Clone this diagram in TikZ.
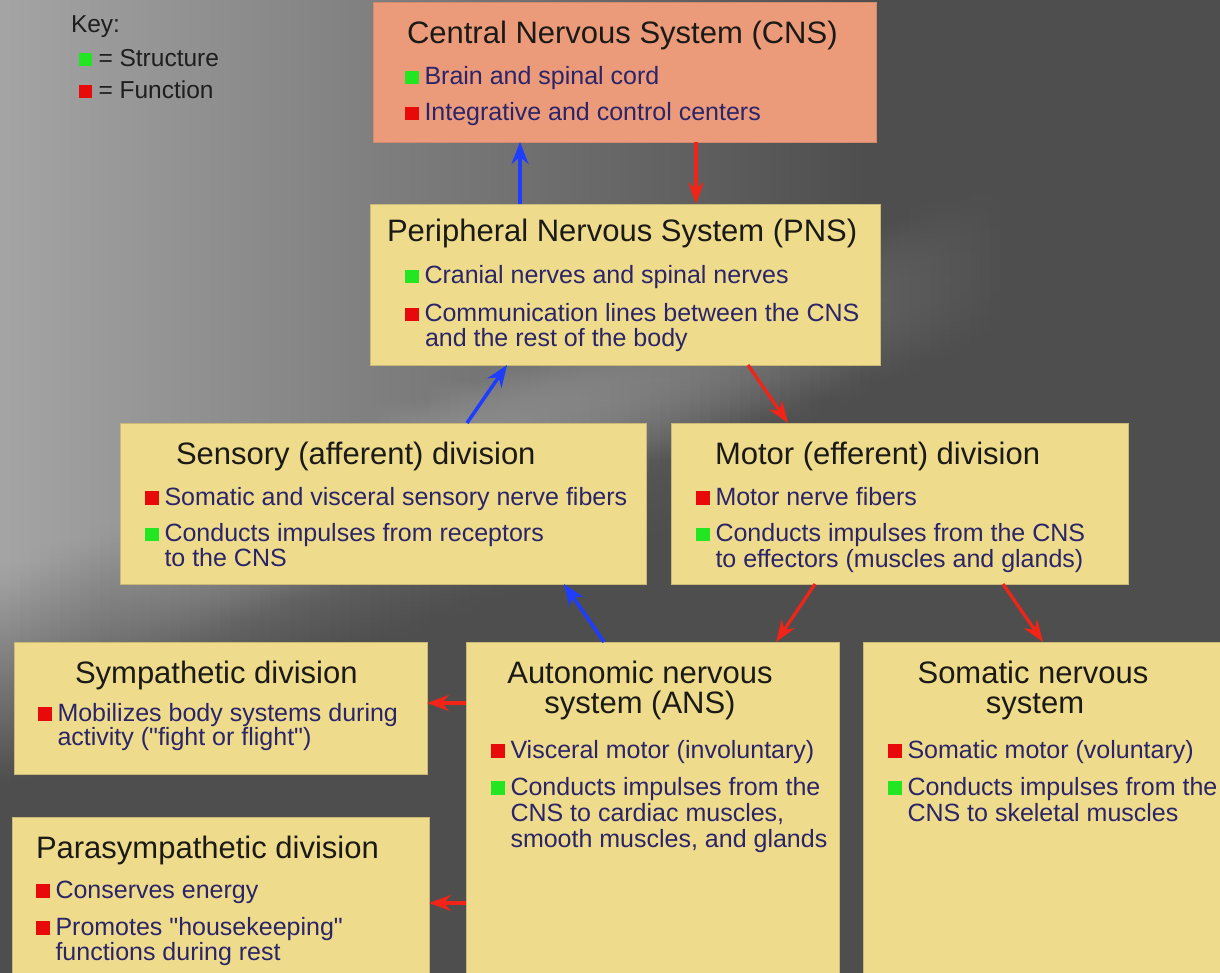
\documentclass[tikz,border=0pt]{standalone}
\usepackage{fontspec}
\setmainfont{Liberation Sans}[Ligatures=TeXOff]
\usetikzlibrary{arrows.meta}
\definecolor{cnsfill}{HTML}{EB9A7A}
\definecolor{boxfill}{HTML}{EEDC8C}
\definecolor{boxline}{HTML}{C9B979}
\definecolor{titlecol}{HTML}{1C1A16}
\definecolor{bulcol}{HTML}{2B2468}
\definecolor{sqgreen}{HTML}{22E622}
\definecolor{sqred}{HTML}{E80A0A}
\definecolor{arrblue}{HTML}{1F3DFF}
\definecolor{arrred}{HTML}{F22418}
\definecolor{keytext}{HTML}{1E1E1E}
\newcommand{\gsq}{{\color{sqgreen}\rule[0.5pt]{13.5pt}{13.5pt}}\hspace{6pt}}
\newcommand{\rsq}{{\color{sqred}\rule[0.5pt]{13.5pt}{13.5pt}}\hspace{6pt}}
\newcommand{\keysq}[1]{{\color{#1}\rule[0.5pt]{13pt}{13pt}}\hspace{6.5pt}}
\tikzset{
  box/.style={rectangle, draw=boxline, line width=0.8pt, fill=boxfill, inner sep=0pt, outer sep=0pt},
  cnsbox/.style={box, fill=cnsfill, draw=cnsfill!90!black},
  ttl/.style={anchor=base west, inner sep=0pt, outer sep=0pt, font=\fontsize{31}{33}\selectfont, text=titlecol},
  ttlc/.style={ttl, anchor=base},
  bul/.style={anchor=base west, inner sep=0pt, outer sep=0pt, font=\fontsize{25}{27}\selectfont, text=bulcol},
  keyt/.style={anchor=base west, inner sep=0pt, outer sep=0pt, font=\fontsize{24.5}{26}\selectfont, text=keytext},
  barrow/.style={draw=arrblue, line width=3.5pt, -{Stealth[length=22pt, width=17pt]}},
  rarrow/.style={draw=arrred, line width=3.2pt, -{Stealth[length=22pt, width=16pt]}}
}
\begin{document}
\begin{tikzpicture}[x=1pt, y=-1pt]
\useasboundingbox (0,0) rectangle (1220,973);
% background: one vertical shading per 10pt column
\foreach \i in {0,...,121}{
  \pgfmathsetmacro{\cx}{\i*10+5}
  \pgfmathsetmacro{\ax}{0.34*max(0,1-\cx/870)}
  \pgfmathsetmacro{\bx}{0.13*max(0,1-((\cx-560)/450)*((\cx-560)/450))}
  \gdef\bgstops{}
  \gdef\bgsep{}
  \foreach \p in {0,20,...,980}{
    \pgfmathsetmacro{\bgd}{0.353*\cx+0.936*(980-\p)-594}
    \pgfmathsetmacro{\bgv}{100*(0.305+\ax*min(1,max(0,0.5-(\bgd-40)/200))+\bx*max(0,1-(\bgd/70)*(\bgd/70)))}
    \xdef\bgstops{\bgstops\bgsep color(\p pt)=(white!\bgv!black)}
    \gdef\bgsep{; }
  }
  \edef\bgdo{\noexpand\pgfdeclareverticalshading{bgcol\i}{10.6pt}{\bgstops}}
  \bgdo
  \pgftext[left,top,at={\pgfpointxy{\i*10}{0}}]{\pgfuseshading{bgcol\i}}
}
% key
\node[keyt] (key) at (71,33) {Key:};
\node[keyt] (keys) at (79,67) {\keysq{sqgreen}= Structure};
\node[keyt] (keyf) at (79,99) {\keysq{sqred}= Function};
% boxes
\node[cnsbox, minimum width=503pt, minimum height=140pt] (cns) at (625,72) {};
\node[box, minimum width=510pt, minimum height=161pt] (pns) at (625,284.5) {};
\node[box, minimum width=526pt, minimum height=161pt] (sens) at (383,503.5) {};
\node[box, minimum width=457pt, minimum height=161pt] (motor) at (899.5,503.5) {};
\node[box, minimum width=413pt, minimum height=132pt] (symp) at (220.5,708) {};
\node[box, minimum width=417pt, minimum height=163pt] (para) at (220.5,898.5) {};
\node[box, minimum width=373pt, minimum height=338pt] (ans) at (652.5,811) {};
\node[box, minimum width=362pt, minimum height=338pt] (soma) at (1044,811) {};
% CNS text
\node[ttl] (cnst) at (407,44) {Central Nervous System (CNS)};
\node[bul] (cnsa) at (405,85) {\gsq Brain and spinal cord};
\node[bul] (cnsb) at (405,121) {\rsq Integrative and control centers};
% PNS text
\node[ttl] (pnst) at (387,242) {Peripheral Nervous System (PNS)};
\node[bul] (pnsa) at (405,284) {\gsq Cranial nerves and spinal nerves};
\node[bul] (pnsb) at (405,322) {\rsq Communication lines between the CNS};
\node[bul] (pnsc) at (425,347) {and the rest of the body};
% Sensory
\node[ttl] (senst) at (176,464) {Sensory (afferent) division};
\node[bul] (sensa) at (145,505) {\rsq Somatic and visceral sensory nerve fibers};
\node[bul] (sensb) at (145,541.5) {\gsq Conducts impulses from receptors};
\node[bul] (sensc) at (164.5,566) {to the CNS};
% Motor
\node[ttl] (motort) at (715,464) {Motor (efferent) division};
\node[bul] (motora) at (696,505) {\rsq Motor nerve fibers};
\node[bul] (motorb) at (696,541.5) {\gsq Conducts impulses from the CNS};
\node[bul] (motorc) at (715.5,567) {to effectors (muscles and glands)};
% Sympathetic
\node[ttl] (sympt) at (75,683) {Sympathetic division};
\node[bul] (sympa) at (38,721) {\rsq Mobilizes body systems during};
\node[bul] (sympb) at (57.5,745) {activity ("fight or flight")};
% Parasympathetic
\node[ttl] (parat) at (36,858) {Parasympathetic division};
\node[bul] (paraa) at (36,898) {\rsq Conserves energy};
\node[bul] (parab) at (36,935) {\rsq Promotes "housekeeping"};
\node[bul] (parac) at (55.5,960) {functions during rest};
% ANS
\node[ttlc] (anst) at (640,683) {Autonomic nervous};
\node[ttlc] (anst2) at (640,713) {system (ANS)};
\node[bul] (ansa) at (491,758) {\rsq Visceral motor (involuntary)};
\node[bul] (ansb) at (491,795) {\gsq Conducts impulses from the};
\node[bul] (ansc) at (510.5,821) {CNS to cardiac muscles,};
\node[bul] (ansd) at (510.5,847) {smooth muscles, and glands};
% Somatic
\node[ttlc] (somat) at (1033,683) {Somatic nervous};
\node[ttlc] (somat2) at (1035,713) {system};
\node[bul] (somaa) at (888,758) {\rsq Somatic motor (voluntary)};
\node[bul] (somab) at (888,795) {\gsq Conducts impulses from the};
\node[bul] (somac) at (907.5,821) {CNS to skeletal muscles};
% connectors
\draw[barrow] ([xshift=-105pt]pns.north) -- ([xshift=-105pt]cns.south);
\draw[rarrow] ([xshift=71pt]cns.south) -- ([xshift=71pt]pns.north);
\draw[barrow] ([xshift=84pt]sens.north) -- ([xshift=-118pt]pns.south);
\draw[rarrow] ([xshift=123pt]pns.south) -- ([xshift=-111.5pt]motor.north);
\draw[barrow] ([xshift=-48.5pt]ans.north) -- ([xshift=181pt]sens.south);
\draw[rarrow] ([xshift=-84.5pt]motor.south) -- ([xshift=123.5pt]ans.north);
\draw[rarrow] ([xshift=103.5pt]motor.south) -- ([xshift=-1pt]soma.north);
\draw[rarrow] ([yshift=108pt]ans.west) -- ([yshift=5pt]symp.east);
\draw[rarrow] ([yshift=-92pt]ans.west) -- ([yshift=-4.5pt]para.east);
\end{tikzpicture}
\end{document}
